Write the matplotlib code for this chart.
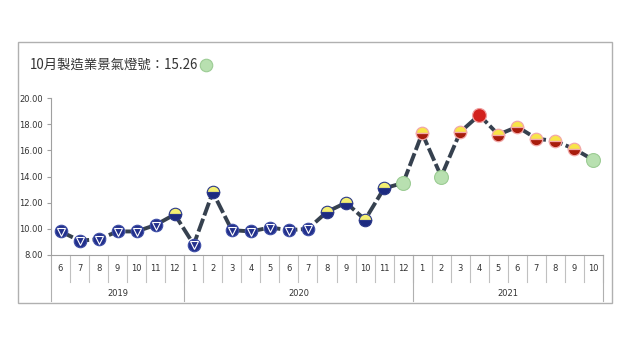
import matplotlib
matplotlib.use('Agg')
from matplotlib import pyplot as plt
from matplotlib.patches import Rectangle
from matplotlib.lines import Line2D

plt.rcParams['font.family'] = ['Noto Sans CJK TC', 'DejaVu Sans']

# data
years = ['2019', '2020', '2021']
months = [6, 7, 8, 9, 10, 11, 12,
          1, 2, 3, 4, 5, 6, 7, 8, 9, 10, 11, 12,
          1, 2, 3, 4, 5, 6, 7, 8, 9, 10]
year_sizes = [7, 12, 10]
values = [9.8, 9.1, 9.2, 9.8, 9.8, 10.3, 11.1,
          8.8, 12.8, 9.9, 9.8, 10.1, 9.9, 10.0, 11.3, 12.0, 10.7, 13.1, 13.5,
          17.3, 14.0, 17.4, 18.7, 17.2, 17.8, 16.9, 16.7, 16.1, 15.26]
# b=blue, yb=yellow-blue, g=green, yr=yellow-red, r=red
signals = ['b', 'b', 'b', 'b', 'b', 'b', 'yb',
           'b', 'yb', 'b', 'b', 'b', 'b', 'b', 'yb', 'yb', 'yb', 'yb', 'g',
           'yr', 'g', 'yr', 'r', 'yr', 'yr', 'yr', 'yr', 'yr', 'g']
title = '10月製造業景氣燈號：15.26'

fig = plt.figure(figsize=(6.4, 3.6), dpi=100)
fig.patches.append(Rectangle((18/640, 1-303/360), 594/640, 261/360, transform=fig.transFigure,
                             fill=False, edgecolor='#b0b0b0', lw=1))
ax = fig.add_axes([51/640, 1-255/360, 552/640, 157/360])

x = list(range(len(values)))
ax.plot(x, values, color='#36414f', lw=2.8, dashes=(3.5, 0.9), zorder=2)

ms = 9
for xi, v, s in zip(x, values, signals):
    if s == 'b':
        ax.plot(xi, v, 'o', ms=ms, mfc='#22308c', mec='#4050a8', mew=0.8, zorder=3)
        ax.plot(xi, v - 0.05, 'v', ms=5.5, mfc='#22308c', mec='white', mew=0.8, zorder=4)
    elif s == 'yb':
        ax.plot(xi, v, 'o', ms=ms, fillstyle='top', mfc='#f4ef72', mfcalt='#1d2b80',
                mec='#2a3888', mew=0.8, zorder=3)
    elif s == 'g':
        ax.plot(xi, v, 'o', ms=ms + 1, mfc='#b8e0b0', mec='#9ccc94', mew=0.8, zorder=3)
    elif s == 'yr':
        ax.plot(xi, v, 'o', ms=ms, fillstyle='top', mfc='#f8e548', mfcalt='#a81c0c',
                mec='#f2a8a8', mew=0.9, zorder=3)
    else:
        ax.plot(xi, v, 'o', ms=ms + 1, mfc='#d2201c', mec='#f0a0a0', mew=0.9, zorder=3)

ax.set_xlim(-0.5, len(values) - 0.5)
ax.set_ylim(8, 20)
ax.set_yticks([8, 10, 12, 14, 16, 18, 20])
ax.set_yticklabels(['%.2f' % t for t in [8, 10, 12, 14, 16, 18, 20]],
                   fontsize=6, family='DejaVu Sans', color='#333333')
ax.tick_params(axis='y', length=3, color='#a0a0a0', pad=3)
ax.set_xticks([])
for sp in ['top', 'right']:
    ax.spines[sp].set_visible(False)
for sp in ['left', 'bottom']:
    ax.spines[sp].set_color('#a0a0a0')
    ax.spines[sp].set_linewidth(0.8)

# category labels and separators
tr = ax.get_xaxis_transform()
for xi, m in zip(x, months):
    ax.text(xi, -0.085, str(m), transform=tr, ha='center', va='center', fontsize=6,
            family='DejaVu Sans', color='#333333')
    ax.add_line(Line2D([xi + 0.5, xi + 0.5], [0, -0.175], transform=tr, color='#c0c0c0',
                       lw=0.8, clip_on=False))
start = -0.5
for yr, n in zip(years, year_sizes):
    ax.add_line(Line2D([start, start], [0, -0.29], transform=tr, color='#b0b0b0',
                       lw=0.8, clip_on=False))
    ax.text(start + n / 2, -0.245, yr, transform=tr, ha='center', va='center',
            fontsize=6, family='DejaVu Sans', color='#333333')
    start += n
ax.add_line(Line2D([start, start], [0, -0.29], transform=tr, color='#b0b0b0',
                   lw=0.8, clip_on=False))

t = fig.text(30/640, 1-65/360, title, fontsize=9.6, va='center', ha='left', color='#333333')
fig.canvas.draw()
bb = t.get_window_extent().transformed(fig.transFigure.inverted())
fig.lines.append(Line2D([bb.x1 + 8/640], [1-65/360], marker='o', ms=9, mfc='#b8e0b0',
                        mec='#9ccc94', mew=0.8, transform=fig.transFigure))

fig.savefig('out.png', dpi=100)
